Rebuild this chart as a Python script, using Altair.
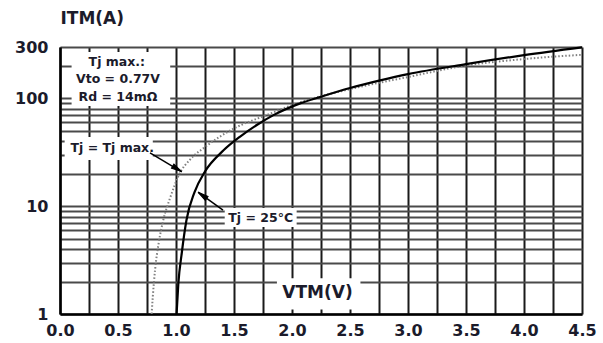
import altair as alt
import pandas as pd

# ---- data ----
x_grid = [0.0, 0.25, 0.5, 0.75, 1.0, 1.25, 1.5, 1.75, 2.0, 2.25, 2.5, 2.75,
          3.0, 3.25, 3.5, 3.75, 4.0, 4.25, 4.5]
y_grid = [1, 2, 3, 4, 5, 6, 7, 8, 9, 10, 20, 30, 40, 50, 60, 70, 80, 90,
          100, 200, 300]
y_label_values = [1, 10, 100, 300]

# Tj = 25 degC (solid)
v_25 = [1.005, 1.02, 1.05, 1.09, 1.16, 1.25, 1.41, 1.55, 1.70, 1.84, 2.07,
        2.24, 2.5, 2.76, 3.0, 3.5, 4.0, 4.5]
i_25 = [1.0, 1.9, 3.7, 7.4, 13.5, 21, 33, 44, 57, 70, 90,
        103, 125, 147, 168, 208, 252, 298]

# Tj = Tj max (dotted)
v_max = [0.79, 0.80, 0.82, 0.85, 0.89, 0.95, 1.03, 1.12, 1.26, 1.49, 1.78,
         2.07, 2.5, 3.0, 3.5, 4.0, 4.5]
i_max = [1.0, 1.45, 2.6, 4.5, 7.4, 12, 20, 27, 36, 52, 70,
         92, 122, 158, 202, 232, 254]

# white label boxes
box_v1 = [0.10, 0.04, 1.42, 1.87]
box_v2 = [0.95, 0.80, 2.04, 2.59]
box_i1 = [85, 26.8, 6.4, 1.1]
box_i2 = [270, 43.8, 9.6, 2.15]

# annotation texts
note_text = ["Tj max.:", "Vto = 0.77V", "Rd = 14mΩ", "Tj = Tj max.", "Tj = 25°C"]
note_v = [0.49, 0.50, 0.50, 0.45, 1.73]
note_i = [218, 151, 103, 34.7, 7.8]

axis_title_text = ["VTM(V)"]
axis_title_v = [2.22]
axis_title_i = [1.57]

# arrows (tail -> tip)
arrow_id = ["a", "a", "b", "b"]
arrow_v = [0.776, 1.05, 1.405, 1.19]
arrow_i = [31.2, 20.8, 9.2, 13.5]
head_v = [1.01, 1.228]
head_i = [22.2, 12.6]
head_angle = [121, 306]

FONT = "DejaVu Sans"
ARROW_SHAPE = "M0,-1L0.45,1L-0.45,1Z"

xs = alt.Scale(type="linear", domain=[0, 4.5], nice=False, zero=False)
ys = alt.Scale(type="log", domain=[1, 300], nice=False)

x_axis = alt.Axis(
    values=x_grid, grid=True, gridColor="#1a1a1a", gridWidth=2,
    ticks=False, domain=True, domainColor="black", domainWidth=2.5,
    labelExpr="datum.value % 0.5 == 0 ? format(datum.value, '.1f') : ''",
    labelFont=FONT, labelFontSize=16, labelFontWeight="bold",
    labelColor="#1b1b2b", labelPadding=8, labelFlush=False,
    labelOverlap=False, title=None,
)
y_axis = alt.Axis(
    values=y_grid, grid=True, gridColor="#4a4a4a", gridWidth=2,
    ticks=False, domain=True, domainColor="black", domainWidth=2.5,
    format="d",
    labelExpr="indexof([1,10,100,300], datum.value) >= 0 ? datum.label : ''",
    labelFont=FONT, labelFontSize=16, labelFontWeight="bold",
    labelColor="#1b1b2b", labelPadding=12, labelOverlap=False,
    title="ITM(A)", titleAngle=0, titleAlign="left", titleBaseline="middle",
    titleX=0, titleY=-29, titleFont=FONT, titleFontSize=17,
    titleFontWeight="bold", titleColor="#1b1b2b",
)

X = lambda: alt.X("V:Q", scale=xs, axis=x_axis)
Y = lambda: alt.Y("I:Q", scale=ys, axis=y_axis)

curves = pd.concat([
    pd.DataFrame({"V": v_25, "I": i_25, "curve": "25"}),
    pd.DataFrame({"V": v_max, "I": i_max, "curve": "max"}),
])

boxes = pd.DataFrame({"V": box_v1, "V2": box_v2, "I": box_i1, "I2": box_i2})
notes = pd.DataFrame({"V": note_v, "I": note_i, "t": note_text})
ttl = pd.DataFrame({"V": axis_title_v, "I": axis_title_i, "t": axis_title_text})
arrows = pd.DataFrame({"V": arrow_v, "I": arrow_i, "id": arrow_id})
heads = pd.DataFrame({"V": head_v, "I": head_i, "a": head_angle})

box_layer = alt.Chart(boxes).mark_rect(color="white").encode(
    x=X(), x2="V2:Q", y=Y(), y2="I2:Q")

solid = alt.Chart(curves[curves.curve == "25"]).mark_line(
    color="black", strokeWidth=2.2, interpolate="monotone").encode(x=X(), y=Y())
dotted = alt.Chart(curves[curves.curve == "max"]).mark_line(
    color="#808080", strokeWidth=2, strokeDash=[1.5, 2],
    interpolate="monotone").encode(x=X(), y=Y())

arrow_lines = alt.Chart(arrows).mark_line(color="black", strokeWidth=1.5).encode(
    x=X(), y=Y(), detail="id:N")
arrow_heads = alt.Chart(heads).mark_point(
    shape=ARROW_SHAPE, filled=True, fill="black", stroke="black",
    strokeWidth=1, opacity=1).encode(
    x=X(), y=Y(), size=alt.value(110),
    angle=alt.Angle("a:Q", scale=None))

note_layer = alt.Chart(notes).mark_text(
    font=FONT, fontSize=12.5, fontWeight="bold", color="#1b1b2b",
    align="center", baseline="middle").encode(x=X(), y=Y(), text="t:N")
title_layer = alt.Chart(ttl).mark_text(
    font=FONT, fontSize=17, fontWeight="bold", color="#1b1b2b",
    align="center", baseline="middle").encode(x=X(), y=Y(), text="t:N")

chart = alt.layer(
    box_layer, dotted, solid, arrow_lines, arrow_heads, note_layer, title_layer
).properties(
    width=522, height=267,
    autosize=alt.AutoSizeParams(type="none"),
    padding={"left": 60, "top": 47, "right": 21, "bottom": 29},
    background="white",
).configure_view(strokeWidth=0)

chart.save("out.html", embed_options={"renderer": "svg", "actions": False})
